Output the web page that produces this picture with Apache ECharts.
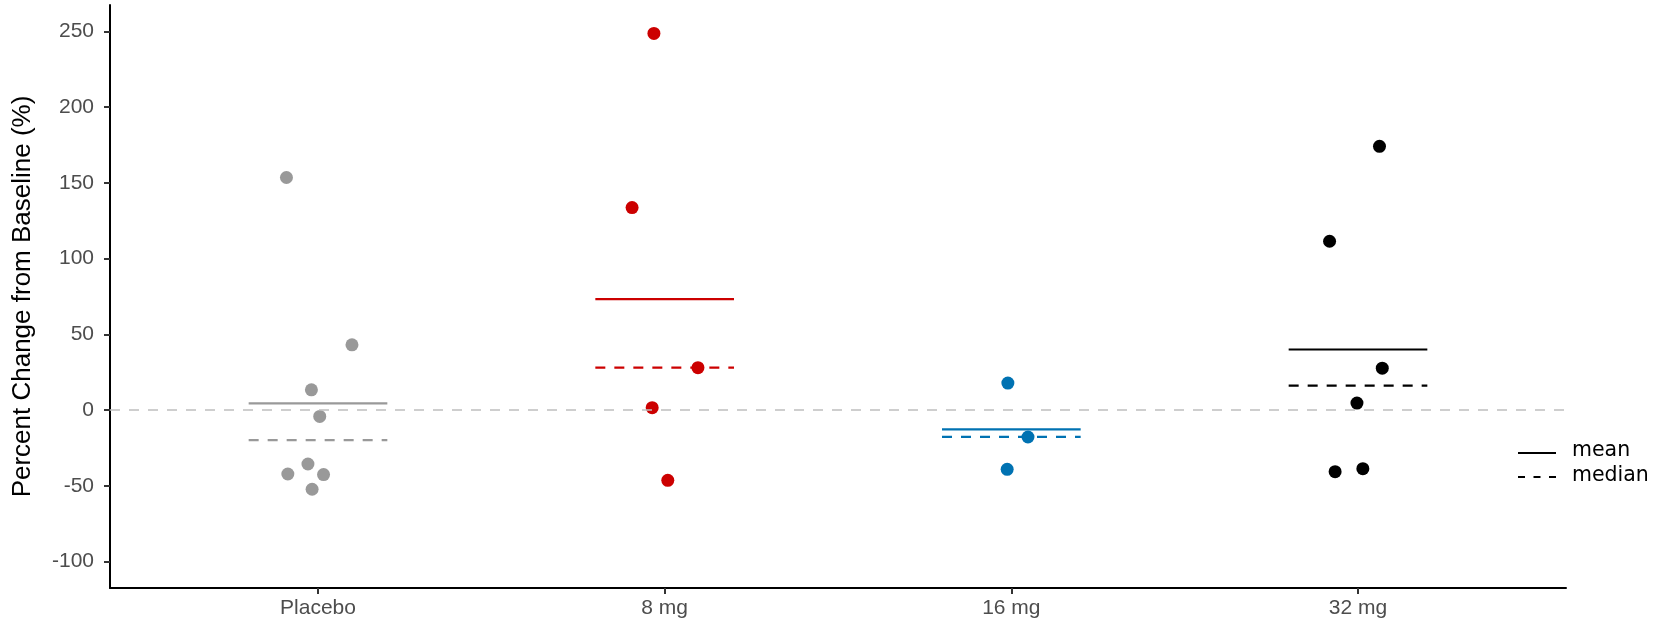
<!DOCTYPE html>
<html>
<head>
<meta charset="utf-8">
<script src="https://cdn.jsdelivr.net/npm/echarts@6/dist/echarts.min.js"></script>
<style>
  html, body { margin: 0; padding: 0; background: #ffffff; }
  #chart { width: 1664px; height: 623px; }
</style>
</head>
<body>
<div id="chart"></div>
<script>
// Dose groups, their colours and tick labels
const groups = ['Placebo', '8 mg', '16 mg', '32 mg'];
const groupColors = ['#999999', '#CC0000', '#0072B2', '#000000'];
const yTicks = [-100, -50, 0, 50, 100, 150, 200, 250];

// Individual subjects: jittered horizontal position and percent change
const placeboX = [0.909, 1.098, 0.981, 1.005, 0.971, 0.913, 1.016, 0.983];
const placeboY = [153.6, 43.1, 13.4, -4.2, -35.6, -42.2, -42.6, -52.3];
const mg8X = [1.969, 1.906, 2.096, 1.964, 2.009];
const mg8Y = [248.7, 133.7, 28.0, 1.6, -46.4];
const mg16X = [2.990, 3.048, 2.988];
const mg16Y = [17.8, -17.8, -39.1];
const mg32X = [4.062, 3.918, 4.070, 3.997, 3.934, 4.014];
const mg32Y = [174.2, 111.5, 27.7, 4.6, -40.7, -38.7];

// Group summaries
const meanValues = [4.4, 73.3, -12.8, 40.0];
const medianValues = [-19.8, 28.0, -17.7, 16.2];

const pointsX = [placeboX, mg8X, mg16X, mg32X];
const pointsY = [placeboY, mg8Y, mg16Y, mg32Y];

const FONT = '"Liberation Sans", Arial, sans-serif';
const HALF = 0.2;        // half width of the summary segments (category units)
const DASH = [10, 9];

const series = [];

groups.forEach((g, i) => {
  const c = i + 1;
  series.push({
    name: g + ' mean',
    type: 'line',
    silent: true,
    symbol: 'none',
    z: 2,
    lineStyle: { color: groupColors[i], width: 2.2, type: 'solid' },
    data: [[c - HALF, meanValues[i]], [c + HALF, meanValues[i]]]
  });
  series.push({
    name: g + ' median',
    type: 'line',
    silent: true,
    symbol: 'none',
    z: 2,
    lineStyle: { color: groupColors[i], width: 2.2, type: DASH },
    data: [[c - HALF, medianValues[i]], [c + HALF, medianValues[i]]]
  });
});

groups.forEach((g, i) => {
  series.push({
    name: g,
    type: 'scatter',
    symbol: 'circle',
    symbolSize: 13,
    z: 3,
    itemStyle: { color: groupColors[i], opacity: 1 },
    data: pointsX[i].map((x, k) => [x, pointsY[i][k]])
  });
});

// Reference line at zero change
series.push({
  name: 'zero',
  type: 'line',
  silent: true,
  symbol: 'none',
  z: 4,
  lineStyle: { color: '#BEBEBE', width: 1.6, type: DASH },
  data: [[0.4, 0], [4.6, 0]]
});

const chart = echarts.init(document.getElementById('chart'), null, { renderer: 'canvas' });

const legendX = 1518, legendLineEnd = 1556, legendTextX = 1572;
const meanRowY = 453, medianRowY = 477;

chart.setOption({
  animation: false,
  backgroundColor: '#ffffff',
  grid: { left: 110, right: 98, top: 5, bottom: 35, containLabel: false },
  xAxis: {
    type: 'value',
    min: 0.4,
    max: 4.6,
    splitLine: { show: false },
    axisLine: { show: true, onZero: false, lineStyle: { color: '#000000', width: 2 } },
    axisTick: {
      show: true, length: 6, inside: false,
      customValues: [1, 2, 3, 4],
      lineStyle: { color: '#333333', width: 2 }
    },
    axisLabel: {
      customValues: [1, 2, 3, 4],
      formatter: v => groups[Math.round(v) - 1] || '',
      fontFamily: FONT,
      fontSize: 21,
      color: '#4D4D4D',
      margin: 10
    }
  },
  yAxis: {
    type: 'value',
    min: -117.5,
    max: 267.5,
    name: 'Percent Change from Baseline (%)',
    nameLocation: 'middle',
    nameGap: 74,
    nameTextStyle: { fontFamily: FONT, fontSize: 26, color: '#000000' },
    splitLine: { show: false },
    axisLine: { show: true, onZero: false, lineStyle: { color: '#000000', width: 2 } },
    axisTick: {
      show: true, length: 6, inside: false,
      customValues: yTicks,
      lineStyle: { color: '#333333', width: 2 }
    },
    axisLabel: {
      customValues: yTicks,
      fontFamily: FONT,
      fontSize: 21,
      color: '#4D4D4D',
      margin: 16
    }
  },
  graphic: [
    {
      type: 'line',
      shape: { x1: legendX, y1: meanRowY, x2: legendLineEnd, y2: meanRowY },
      style: { stroke: '#000000', lineWidth: 2.2 }
    },
    {
      type: 'line',
      shape: { x1: legendX, y1: medianRowY, x2: legendLineEnd, y2: medianRowY },
      style: { stroke: '#000000', lineWidth: 2.2, lineDash: [7, 8.5] }
    },
    {
      type: 'text',
      x: legendTextX, y: meanRowY - 2,
      style: {
        text: 'mean', fill: '#000000',
        font: '20.5px "DejaVu Sans", sans-serif',
        verticalAlign: 'middle', align: 'left'
      }
    },
    {
      type: 'text',
      x: legendTextX, y: medianRowY - 1,
      style: {
        text: 'median', fill: '#000000',
        font: '20.5px "DejaVu Sans", sans-serif',
        verticalAlign: 'middle', align: 'left'
      }
    }
  ],
  series: series
});
</script>
</body>
</html>
